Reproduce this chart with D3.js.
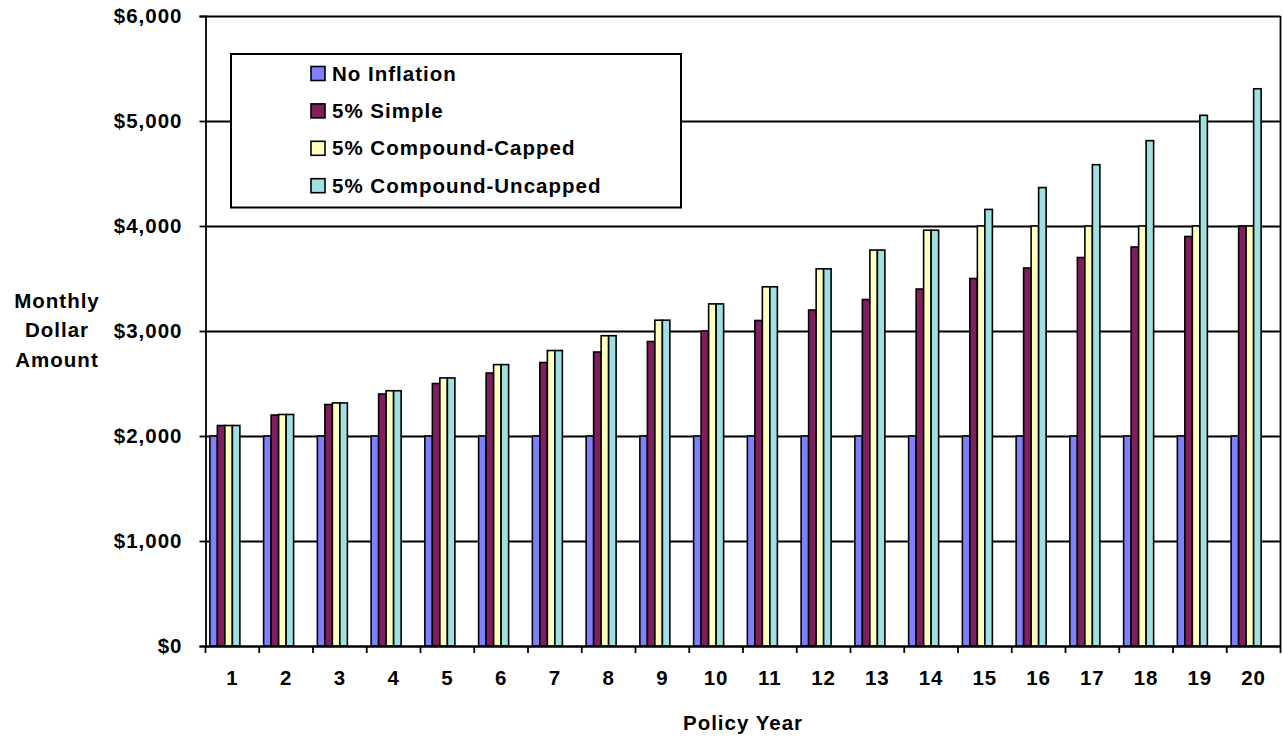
<!DOCTYPE html>
<html>
<head>
<meta charset="utf-8">
<script src="https://cdn.jsdelivr.net/npm/d3@7"></script>
<style>
  html, body { margin: 0; padding: 0; background: #fff; }
  svg { display: block; }
  text { font-family: "Liberation Sans", Arial, sans-serif; font-weight: bold; fill: #000; }
</style>
</head>
<body>
<svg id="chart" width="1283" height="740"></svg>
<script>
// ---- data ----
const years = ["1","2","3","4","5","6","7","8","9","10","11","12","13","14","15","16","17","18","19","20"];
const seriesNames = ["No Inflation", "5% Simple", "5% Compound-Capped", "5% Compound-Uncapped"];
const noInflation = [2000,2000,2000,2000,2000,2000,2000,2000,2000,2000,2000,2000,2000,2000,2000,2000,2000,2000,2000,2000];
const simple5 = [2100,2200,2300,2400,2500,2600,2700,2800,2900,3000,3100,3200,3300,3400,3500,3600,3700,3800,3900,4000];
const compoundCapped = [2100,2205,2315,2431,2553,2680,2814,2955,3103,3258,3421,3592,3771,3960,4000,4000,4000,4000,4000,4000];
const compoundUncapped = [2100,2205,2315,2431,2553,2680,2814,2955,3103,3258,3421,3592,3771,3960,4158,4366,4584,4813,5054,5307];
const yTicks = [0,1000,2000,3000,4000,5000,6000];
const colors = ["#8080FF", "#7F1F5F", "#FFFFC0", "#A0E0E0"];

const seriesValues = [noInflation, simple5, compoundCapped, compoundUncapped];

// ---- layout ----
const svg = d3.select("#chart");
const mLeft = 205.5, mRight = 1280.5, mTop = 16, mBottom = 646;
const W = mRight - mLeft, H = mBottom - mTop;
const ls = "1px";
const fs = "20.5px";
const lw = 1.8;

const g = svg.append("g").attr("transform", `translate(${mLeft},${mTop})`);

const y = d3.scaleLinear().domain([0, 6000]).range([H, 0]);
const x0 = d3.scaleBand().domain(years).range([0, W]).padding(0);
// six slots per category; only the first four carry series (Excel-style spacing)
const slots = ["s0","s1","s2","s3","s4","s5"];
const x1 = d3.scaleBand().domain(slots).range([0, x0.bandwidth()]).paddingOuter(0.583).paddingInner(0);

// gridlines
g.append("g")
  .call(d3.axisLeft(y).tickValues(yTicks).tickSize(-W).tickFormat(""))
  .call(s => s.select(".domain").remove())
  .call(s => s.selectAll("line").attr("stroke", "#000").attr("stroke-width", lw));

// right border
g.append("line").attr("x1", W).attr("x2", W).attr("y1", 0).attr("y2", H)
  .attr("stroke", "#000").attr("stroke-width", lw);

// bars
const rows = years.map((yr, i) => ({ yr, vals: seriesValues.map((s, k) => ({ k, v: s[i] })) }));
const grp = g.selectAll("g.cat").data(rows).join("g")
  .attr("class", "cat")
  .attr("transform", d => `translate(${x0(d.yr)},0)`);
grp.selectAll("rect").data(d => d.vals).join("rect")
  .attr("x", d => x1(slots[d.k]))
  .attr("width", x1.bandwidth())
  .attr("y", d => y(d.v))
  .attr("height", d => H - y(d.v))
  .attr("fill", d => colors[d.k])
  .attr("stroke", "#000")
  .attr("stroke-width", 1.6);

// y axis
const yAxis = g.append("g")
  .call(d3.axisLeft(y).tickValues(yTicks).tickSize(6).tickPadding(17).tickFormat(d3.format("$,")));
yAxis.selectAll("line").attr("stroke", "#000").attr("stroke-width", lw);
yAxis.select(".domain").attr("stroke", "#000").attr("stroke-width", lw);
yAxis.selectAll("text").style("font-size", fs).style("letter-spacing", ls).attr("fill", "#000")
  .attr("font-family", null);

// x axis: labels centered, ticks at category boundaries
const xAxis = g.append("g").attr("transform", `translate(0,${H})`)
  .call(d3.axisBottom(x0).tickSize(0).tickPadding(24));
xAxis.select(".domain").attr("stroke", "#000").attr("stroke-width", lw);
xAxis.selectAll("text").style("font-size", fs).style("letter-spacing", ls).attr("font-family", null);
const edges = years.map(c => x0(c)).concat([W]);
xAxis.selectAll("line.edge").data(edges).join("line")
  .attr("class", "edge")
  .attr("x1", d => d).attr("x2", d => d)
  .attr("y1", 0).attr("y2", 7)
  .attr("stroke", "#000").attr("stroke-width", lw);

// axis titles
svg.append("text").attr("x", mLeft + W / 2).attr("y", 730)
  .attr("text-anchor", "middle").style("font-size", fs).style("letter-spacing", ls)
  .text("Policy Year");
const yTitle = svg.append("text").attr("text-anchor", "middle").style("font-size", fs).style("letter-spacing", ls);
["Monthly", "Dollar", "Amount"].forEach((t, i) => {
  yTitle.append("tspan").attr("x", 57).attr("y", 308 + i * 29.3).text(t);
});

// legend
const lg = svg.append("g");
lg.append("rect").attr("x", 231).attr("y", 54).attr("width", 450).attr("height", 153.5)
  .attr("fill", "#fff").attr("stroke", "#000").attr("stroke-width", 2);
const items = lg.selectAll("g.item").data(seriesNames).join("g")
  .attr("class", "item")
  .attr("transform", (d, i) => `translate(311,${73.5 + i * 37.4})`);
items.append("rect").attr("x", 0).attr("y", -7).attr("width", 14).attr("height", 14)
  .attr("fill", (d, i) => colors[i]).attr("stroke", "#000").attr("stroke-width", 1.6);
items.append("text").attr("x", 21).attr("y", 7)
  .style("font-size", fs).style("letter-spacing", ls)
  .text(d => d);
</script>
</body>
</html>
